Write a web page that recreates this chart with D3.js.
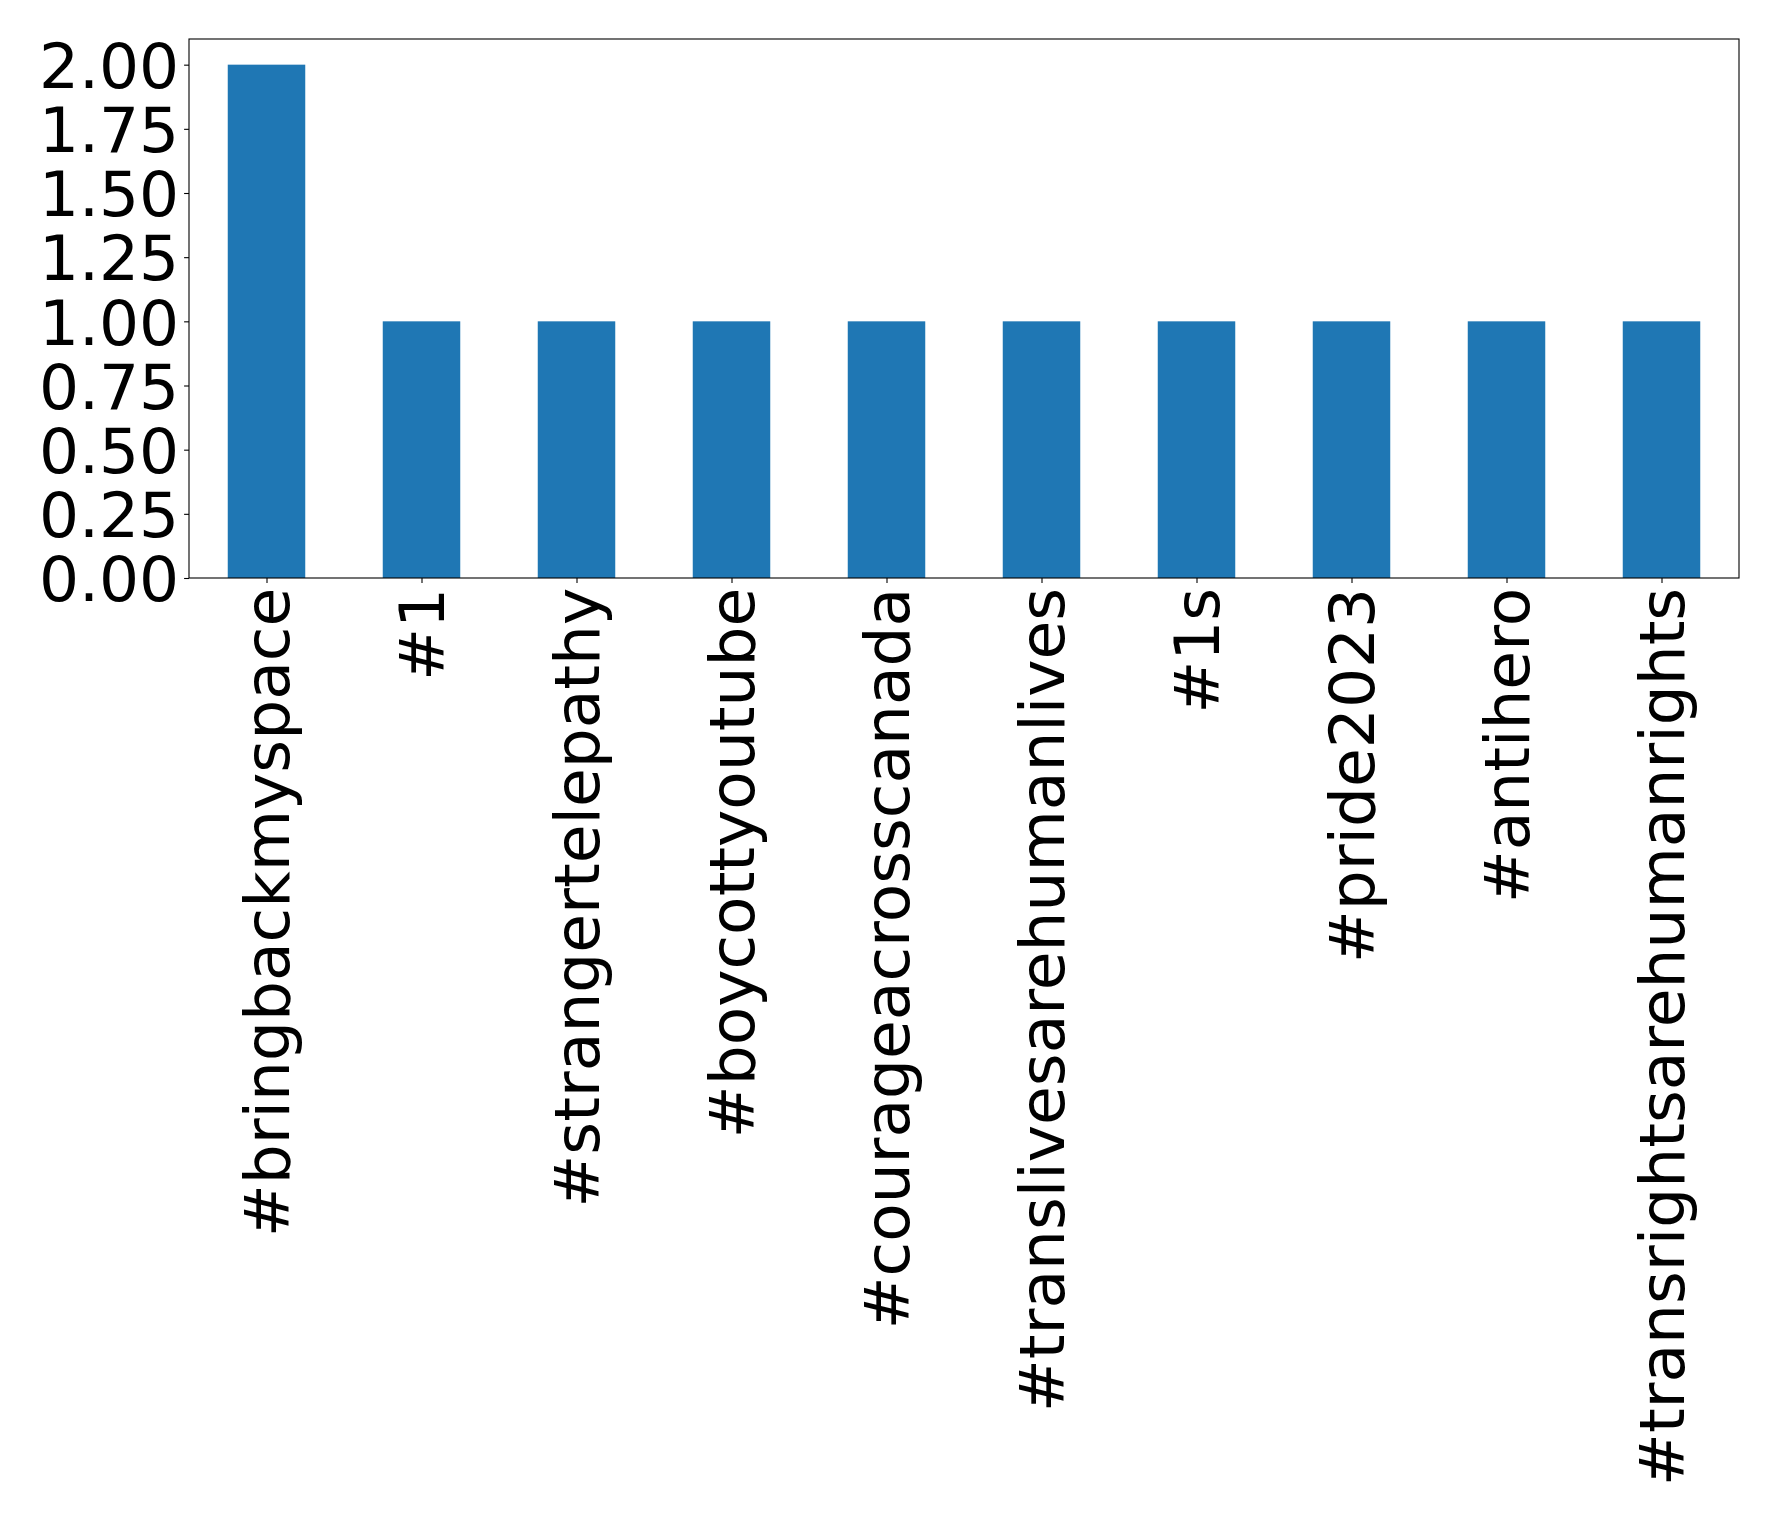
<!DOCTYPE html>
<html>
<head>
<meta charset="utf-8">
<script src="https://cdn.jsdelivr.net/npm/d3@7"></script>
<style>
  html, body { margin: 0; padding: 0; background: #ffffff; }
  svg { display: block; }
  text { font-family: "DejaVu Sans", sans-serif; fill: #000; }
</style>
</head>
<body>
<script>
const categories = ["#bringbackmyspace", "#1", "#strangertelepathy", "#boycottyoutube",
  "#courageacrosscanada", "#translivesarehumanlives", "#1s", "#pride2023",
  "#antihero", "#transrightsarehumanrights"];
const counts = [2, 1, 1, 1, 1, 1, 1, 1, 1, 1];
const yTicks = [0, 0.25, 0.5, 0.75, 1.0, 1.25, 1.5, 1.75, 2.0];

(function () {
const W = 1778, H = 1518;
const plotLeft = 189, plotRight = 1739, plotTop = 39, plotBottom = 578;
const fontSize = 63, tickLen = 4.9, pad = 4.9;

const svg = d3.select("body").append("svg").attr("width", W).attr("height", H);
svg.append("rect").attr("width", W).attr("height", H).attr("fill", "#fff");

const x = d3.scaleLinear().domain([-0.5, categories.length - 0.5]).range([plotLeft, plotRight]);
const y = d3.scaleLinear().domain([0, d3.max(counts) * 1.05]).range([plotBottom, plotTop]);

// bars
svg.append("g").selectAll("rect").data(counts).join("rect")
  .attr("x", (d, i) => x(i - 0.25))
  .attr("width", (d, i) => x(i + 0.25) - x(i - 0.25))
  .attr("y", d => y(d))
  .attr("height", d => y(0) - y(d))
  .attr("fill", "#1f77b4");

// y axis
const yAxis = d3.axisLeft(y).tickValues(yTicks).tickFormat(d3.format(".2f"))
  .tickSize(tickLen).tickPadding(pad);
const gy = svg.append("g").attr("transform", `translate(${plotLeft},0)`).call(yAxis);
gy.select(".domain").remove();
gy.selectAll(".tick line").attr("stroke", "#000").attr("stroke-width", 1.1);
gy.selectAll(".tick text").attr("font-size", fontSize)
  .attr("font-family", "DejaVu Sans").attr("dy", "0.36em").attr("fill", "#000");

// x axis
const xAxis = d3.axisBottom(x).tickValues(d3.range(categories.length))
  .tickFormat(i => categories[i]).tickSize(tickLen).tickPadding(pad);
const gx = svg.append("g").attr("transform", `translate(0,${plotBottom})`).call(xAxis);
gx.select(".domain").remove();
gx.selectAll(".tick line").attr("stroke", "#000").attr("stroke-width", 1.1);
gx.selectAll(".tick text")
  .attr("font-size", fontSize).attr("font-family", "DejaVu Sans").attr("fill", "#000")
  .attr("text-anchor", "end")
  .attr("x", 0).attr("y", 0).attr("dy", "0.35em")
  .attr("transform", `translate(0,${tickLen + pad}) rotate(-90)`);

// frame
svg.append("rect")
  .attr("x", plotLeft).attr("y", plotTop)
  .attr("width", plotRight - plotLeft).attr("height", plotBottom - plotTop)
  .attr("fill", "none").attr("stroke", "#000").attr("stroke-width", 1.1);
})();
</script>
</body>
</html>
